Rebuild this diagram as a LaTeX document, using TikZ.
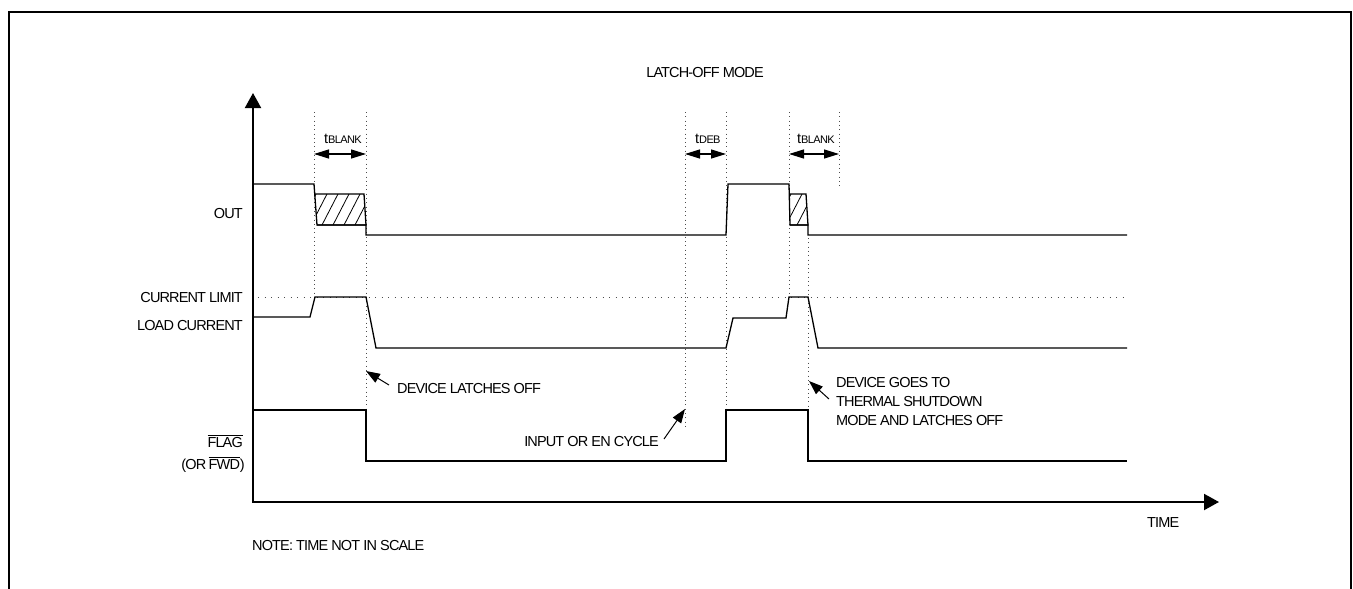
\documentclass[tikz,border=0pt]{standalone}
\usepackage{fontspec}
\setmainfont{Liberation Sans}[LetterSpace=-6]
\usetikzlibrary{arrows.meta}
\begin{document}
\begin{tikzpicture}[x=1pt,y=-1pt,
  sig/.style={line width=1.3pt, line join=miter},
  axisline/.style={line width=2pt, {Triangle[length=15pt,width=16pt]}-{Triangle[length=15pt,width=16pt]}},
  guide/.style={line width=0.9pt, draw=black!70, dash pattern=on 1pt off 3.3pt},
  hguide/.style={line width=0.9pt, draw=black!70, dash pattern=on 1pt off 5.5pt},
  dimarrow/.style={line width=1.3pt, {Triangle[length=15pt,width=9pt]}-{Triangle[length=15pt,width=9pt]}},
  notearrow/.style={line width=1pt, -{Triangle[length=14pt,width=10pt]}},
  hatchline/.style={line width=0.8pt},
  lbl/.style={font=\fontsize{14.5}{19}\selectfont, inner sep=0pt},
  sublbl/.style={font=\fontsize{11}{13}\selectfont},
]
\useasboundingbox (0,0) rectangle (1353,589);
% frame
\draw[line width=2pt] (9,589) -- (9,12) -- (1351,12) -- (1351,589);

% guide coordinates
\coordinate (g1t) at (314,112); \coordinate (g1b) at (314,297);
\coordinate (g2t) at (366,112); \coordinate (g2b) at (366,410);
\coordinate (g3t) at (685,112); \coordinate (g3b) at (685,430);
\coordinate (g4t) at (726,112); \coordinate (g4b) at (726,410);
\coordinate (g5t) at (789,112); \coordinate (g5b) at (789,297);
\coordinate (g6t) at (839,112); \coordinate (g6b) at (839,189);
\coordinate (g7t) at (808,238); \coordinate (g7b) at (808,410);
\coordinate (cll) at (258,297); \coordinate (clr) at (1127,297);

\draw[guide] (g1t) -- (g1b);
\draw[guide] (g2t) -- (g2b);
\draw[guide] (g3t) -- (g3b);
\draw[guide] (g4t) -- (g4b);
\draw[guide] (g5t) -- (g5b);
\draw[guide] (g6t) -- (g6b);
\draw[guide] (g7t) -- (g7b);
\draw[hguide] (cll) -- (clr);

% axes
\coordinate (O) at (253,502);
\coordinate (ytop) at (253,93);
\coordinate (xend) at (1219,502);
\draw[axisline] (ytop) -- (O) -- (xend);

% hatched boxes
\begin{scope}
\clip (314.7,194) -- (364,194) -- (366,225) -- (317,225) -- cycle;
\foreach \x in {300,311,...,370} \draw[hatchline] (\x,225) -- (\x+16,194);
\end{scope}
\draw[sig] (314.7,194) -- (364,194) -- (366,225) -- (317,225);
\begin{scope}
\clip (789.2,194) -- (806,194) -- (808,225) -- (790,225) -- cycle;
\foreach \x in {775,786,...,815} \draw[hatchline] (\x,225) -- (\x+16,194);
\end{scope}
\draw[sig] (789.2,194) -- (806,194) -- (808,225) -- (790,225);

% OUT
\draw[sig] (253,184) -- (314,184) -- (317,225) -- (366,225) -- (366,235) -- (726,235) -- (728,184) -- (789,184) -- (790,225) -- (808,225) -- (808,235) -- (1127,235);
% LOAD CURRENT
\draw[sig] (253,317) -- (310,317) -- (315,297) -- (366,297) -- (376,348) -- (726,348) -- (733,318) -- (786,318) -- (789,297) -- (808,297) -- (818,348) -- (1127,348);
% FLAG
\draw[sig] (253,410) -- (366,410) -- (366,461) -- (726,461) -- (726,410) -- (808,410) -- (808,461) -- (1127,461);

% dimension arrows
\coordinate (d1a) at (314,154); \coordinate (d1b) at (366,154);
\coordinate (d2a) at (685,154); \coordinate (d2b) at (726,154);
\coordinate (d3a) at (789,154); \coordinate (d3b) at (839,154);
\draw[dimarrow] (d1a) -- (d1b);
\draw[dimarrow] (d2a) -- (d2b);
\draw[dimarrow] (d3a) -- (d3b);

% labels
\node[lbl, anchor=base] (title) at (705,77) {LATCH-OFF MODE};
\node[lbl, anchor=base west] (tb1) at (324,143) {t{\fontsize{11}{13}\selectfont BLANK}};
\node[lbl, anchor=base west] (tdeb) at (695,143) {t{\fontsize{11}{13}\selectfont DEB}};
\node[lbl, anchor=base west] (tb2) at (797,143) {t{\fontsize{11}{13}\selectfont BLANK}};
\node[lbl, anchor=base east] (out) at (243,218) {OUT};
\node[lbl, anchor=base east] (cl) at (243,302) {CURRENT LIMIT};
\node[lbl, anchor=base east] (lc) at (243,330) {LOAD CURRENT};
\node[lbl, anchor=base east] (flag) at (243,447) {$\overline{\hbox{FLAG}}$};
\node[lbl, anchor=base east] (fwd) at (245,469) {(OR\,$\overline{\hbox{FWD}}$)};
\node[lbl, anchor=base west] (dlo) at (397,393) {DEVICE LATCHES OFF};
\node[lbl, anchor=base east] (iec) at (659,446) {INPUT OR EN CYCLE};
\node[lbl, anchor=west, align=left] (tsd) at (836,402) {DEVICE GOES TO\\THERMAL SHUTDOWN\\MODE AND LATCHES OFF};
\node[lbl, anchor=base west] (time) at (1147,527) {TIME};
\node[lbl, anchor=base west] (note) at (252,550) {NOTE: TIME NOT IN SCALE};

% annotation arrows
\coordinate (dlotip) at (366,371);
\coordinate (iectip) at (685,409);
\coordinate (tsdtip) at (809,381);
\draw[notearrow] ([xshift=-8pt,yshift=3pt]dlo.west) -- (dlotip);
\draw[notearrow] ([xshift=5pt,yshift=2pt]iec.east) -- (iectip);
\draw[notearrow] ([xshift=-7pt,yshift=3pt]tsd.west) -- (tsdtip);
\end{tikzpicture}
\end{document}
